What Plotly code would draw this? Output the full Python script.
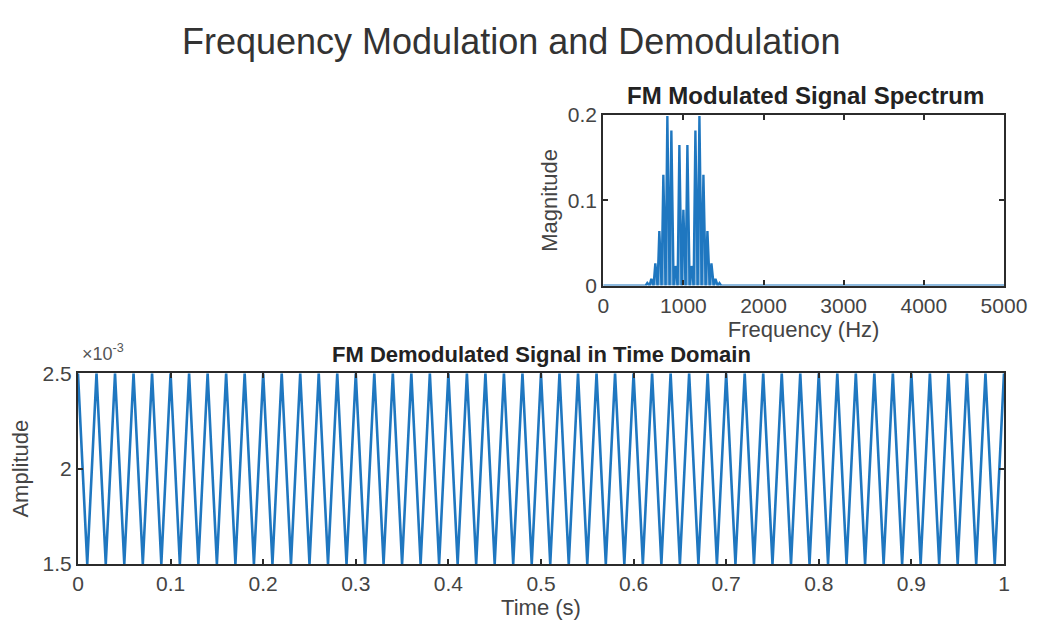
import plotly.graph_objects as go

# ---- FM spectrum: sideband frequencies (Hz) and their magnitudes ----
sideband_freq = [550, 600, 650, 700, 750, 800, 850, 900, 950, 1000,
                 1050, 1100, 1150, 1200, 1250, 1300, 1350, 1400, 1450]
sideband_mag = [0.003, 0.008, 0.026, 0.064, 0.130, 0.199, 0.182, 0.023, 0.165, 0.089,
                0.165, 0.023, 0.182, 0.199, 0.130, 0.064, 0.026, 0.008, 0.003]
freq_span = [0, 5000]

# ---- demodulated signal: times of successive crests / troughs (s) ----
crest_times = [0.00, 0.02, 0.04, 0.06, 0.08, 0.10, 0.12, 0.14, 0.16, 0.18,
               0.20, 0.22, 0.24, 0.26, 0.28, 0.30, 0.32, 0.34, 0.36, 0.38,
               0.40, 0.42, 0.44, 0.46, 0.48, 0.50, 0.52, 0.54, 0.56, 0.58,
               0.60, 0.62, 0.64, 0.66, 0.68, 0.70, 0.72, 0.74, 0.76, 0.78,
               0.80, 0.82, 0.84, 0.86, 0.88, 0.90, 0.92, 0.94, 0.96, 0.98, 1.00]
trough_times = [0.01, 0.03, 0.05, 0.07, 0.09, 0.11, 0.13, 0.15, 0.17, 0.19,
                0.21, 0.23, 0.25, 0.27, 0.29, 0.31, 0.33, 0.35, 0.37, 0.39,
                0.41, 0.43, 0.45, 0.47, 0.49, 0.51, 0.53, 0.55, 0.57, 0.59,
                0.61, 0.63, 0.65, 0.67, 0.69, 0.71, 0.73, 0.75, 0.77, 0.79,
                0.81, 0.83, 0.85, 0.87, 0.89, 0.91, 0.93, 0.95, 0.97, 0.99]
crest_level = 2.5e-3
trough_level = 1.5e-3

# ---- tick labels ----
freq_ticks = [0, 1000, 2000, 3000, 4000, 5000]
mag_ticks = [0, 0.1, 0.2]
mag_ticktext = ["0", "0.1", "0.2"]
time_ticks = [0, 0.1, 0.2, 0.3, 0.4, 0.5, 0.6, 0.7, 0.8, 0.9, 1.0]
time_ticktext = ["0", "0.1", "0.2", "0.3", "0.4", "0.5", "0.6", "0.7", "0.8", "0.9", "1"]
amp_ticks = [1.5e-3, 2.0e-3, 2.5e-3]
amp_ticktext = ["1.5", "2", "2.5"]

BLUE = "#1f77c0"
AXC = "#2b2b2b"
TXT = "#444444"
FONT = "Liberation Sans, Arial, Helvetica, sans-serif"
W, H = 1062, 628

# spectrum polyline: each sideband drawn as a narrow spike over a zero baseline
half_w = 22
spec_x, spec_y = [freq_span[0]], [0.0]
for f, m in zip(sideband_freq, sideband_mag):
    spec_x += [f - half_w, f, f + half_w]
    spec_y += [0.0, m, 0.0]
spec_x.append(freq_span[1])
spec_y.append(0.0)

# time signal: crests and troughs merged in time order
pts = sorted([(t, crest_level) for t in crest_times] +
             [(t, trough_level) for t in trough_times])
sig_t = [p[0] for p in pts]
sig_a = [p[1] for p in pts]

fig = go.Figure()
fig.add_trace(go.Scatter(x=spec_x, y=spec_y, mode="lines",
                         line=dict(color=BLUE, width=2.4),
                         fill="tozeroy", fillcolor="rgba(31,119,192,0.55)",
                         xaxis="x", yaxis="y", showlegend=False))
fig.add_trace(go.Scatter(x=sig_t, y=sig_a, mode="lines",
                         line=dict(color=BLUE, width=2.6),
                         xaxis="x2", yaxis="y2", showlegend=False))

axis_common = dict(showline=True, linecolor=AXC, linewidth=2.2, mirror="allticks",
                   ticks="inside", ticklen=5, tickwidth=1.5, tickcolor=AXC,
                   showgrid=False, zeroline=False,
                   tickfont=dict(family=FONT, size=21, color=TXT),
                   title_font=dict(family=FONT, size=22, color=TXT))

# plot-area boxes in pixels
top_box = (614, 1026, 107, 284)
bot_box = (74, 1026, 375, 573)


def xdom(b):
    return [b[0] / W, b[1] / W]


def ydom(b):
    return [1 - b[3] / H, 1 - b[2] / H]


fig.update_layout(
    width=W, height=H,
    margin=dict(l=0, r=0, t=0, b=0),
    paper_bgcolor="white", plot_bgcolor="white",
    font=dict(family=FONT, color=TXT),
    xaxis=dict(axis_common, domain=xdom(top_box), range=freq_span,
               tickvals=freq_ticks, ticktext=[str(v) for v in freq_ticks],
               title=dict(text="Frequency (Hz)", standoff=1), anchor="y"),
    yaxis=dict(axis_common, domain=ydom(top_box), range=[0, 0.2],
               tickvals=mag_ticks, ticktext=mag_ticktext,
               title=dict(text="Magnitude", standoff=4), anchor="x"),
    xaxis2=dict(axis_common, domain=xdom(bot_box), range=[0, 1],
                tickvals=time_ticks, ticktext=time_ticktext,
                title=dict(text="Time (s)", standoff=2), anchor="y2"),
    yaxis2=dict(axis_common, domain=ydom(bot_box), range=[1.5e-3, 2.5e-3],
                tickvals=amp_ticks, ticktext=amp_ticktext,
                title=dict(text="Amplitude", standoff=8), anchor="x2"),
    annotations=[
        dict(text="Frequency Modulation and Demodulation", x=519 / W, y=1 - 31 / H,
             xref="paper", yref="paper", showarrow=False, xanchor="center", yanchor="middle",
             font=dict(family=FONT, size=36, color="#333333")),
        dict(text="<b>FM Modulated Signal Spectrum</b>", x=822 / W, y=1 - 87 / H,
             xref="paper", yref="paper", showarrow=False, xanchor="center", yanchor="middle",
             font=dict(family=FONT, size=24, color="#222222")),
        dict(text="<b>FM Demodulated Signal in Time Domain</b>", x=551 / W, y=1 - 356 / H,
             xref="paper", yref="paper", showarrow=False, xanchor="center", yanchor="middle",
             font=dict(family=FONT, size=22, color="#222222")),
        dict(text="×10<sup>-3</sup>", x=76 / W, y=1 - 353 / H,
             xref="paper", yref="paper", showarrow=False, xanchor="left", yanchor="middle",
             font=dict(family=FONT, size=18, color="#555555")),
    ],
)

fig.write_html("out.html")
